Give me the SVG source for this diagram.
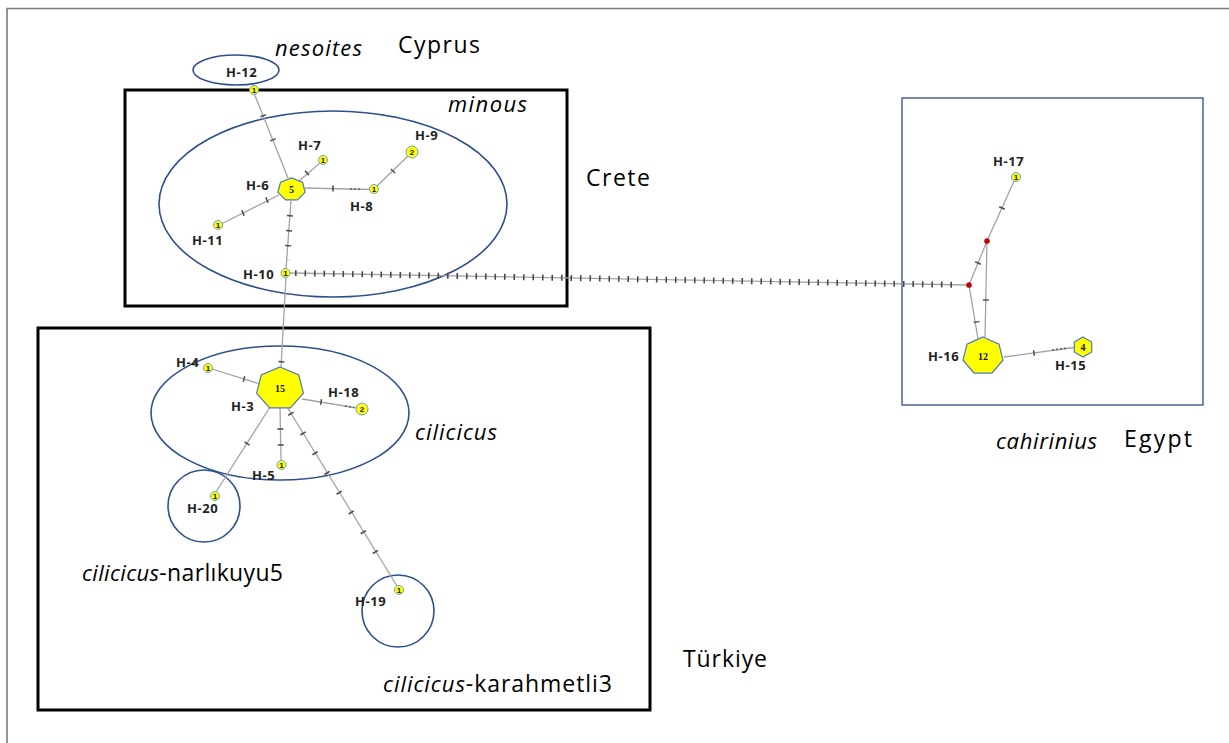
<svg xmlns="http://www.w3.org/2000/svg" width="1229" height="743" viewBox="0 0 1229 743">
<style>
.frame{stroke:#7a7a7a;stroke-width:1.6;fill:none}
.box{fill:none;stroke:#000;stroke-width:3}
.ebox{fill:none;stroke:#2e4a8c;stroke-width:1.3}
.ring{fill:none;stroke:#2e4f8e;stroke-width:1.6}
.ln{stroke:#a3a3a3;stroke-width:1.3;fill:none}
.tk{stroke:#4a4a4a;stroke-width:6;fill:none;stroke-linecap:butt}
.dl{stroke:#555;stroke-width:1.3;fill:none;stroke-dasharray:2 2}
.nd{fill:#ffff00;stroke:#6c9fd6;stroke-width:1}
.red{fill:#cc0000;stroke:#8a1a1a;stroke-width:0.5}
.big{fill:#ffff00;stroke:#4a78c0;stroke-width:1.2}
.one{font-family:"Liberation Sans",Arial,sans-serif;font-size:8px;font-weight:bold;fill:#111;text-anchor:middle}
.num{font-family:"Liberation Serif","Times New Roman",serif;font-size:10px;font-weight:bold;fill:#111;text-anchor:middle}
.lab{font-family:"Open Sans","Liberation Sans",sans-serif;font-size:13px;font-weight:bold;fill:#222;letter-spacing:0.6px}
.t{font-family:"Open Sans","Liberation Sans",sans-serif;font-size:23px;fill:#000}
.it{font-style:italic;font-size:22px}
</style>
<rect x="0" y="0" width="1229" height="743" fill="#fff"/>
<path class="frame" d="M7,743 L7,8.5 L1229,8.5"/>

<g id="regions">
<rect class="box" x="125" y="90" width="442" height="216"/>
<rect class="box" x="38" y="328" width="612" height="382"/>
<rect class="ebox" x="902" y="98" width="301" height="307"/>
<ellipse class="ring" cx="236" cy="70" rx="43" ry="15"/>
<ellipse class="ring" cx="333" cy="204" rx="174" ry="93"/>
<ellipse class="ring" cx="280" cy="413" rx="129" ry="67"/>
<circle class="ring" cx="204" cy="506" r="36"/>
<circle class="ring" cx="398" cy="611" r="36"/>
</g>

<g id="connectors">
<path class="ln" d="M254,93 L288,178"/>
<path class="tk" d="M263,115 L282.4,163" stroke-dasharray="1.5 24.4"/>
<path class="ln" d="M299,181 L320,163"/>
<path class="tk" d="M306.4,173.5 L307.6,172.5"/>
<path class="ln" d="M279,195 L221,224"/>
<path class="tk" d="M267.7,199.7 L266.3,200.3 M243.7,212.7 L242.3,213.3"/>
<path class="ln" d="M305,188 L370,189.5"/>
<path class="tk" d="M332.2,188.6 L333.8,188.6"/>
<path class="dl" d="M350,189 L362,189.2"/>
<path class="ln" d="M377,186 L408,156"/>
<path class="tk" d="M392.5,171.5 L393.5,170.5"/>
<path class="ln" d="M291,201 L286,269"/>
<path class="tk" d="M290,215 L287.3,260" stroke-dasharray="1.5 13.5"/>
<path class="ln" d="M286,277 L281,367"/>
<path class="tk" d="M281.4,361 L281.3,362.5"/>
<path class="ln" d="M290,273 L967,285"/>
<path class="tk" d="M295,273.1 L959,284.9" stroke-dasharray="1.6 7.9"/>
<path class="ln" d="M969,285 L987,241"/>
<path class="tk" d="M977.7,263.7 L978.3,262.3"/>
<path class="ln" d="M987,241 L1015,179"/>
<path class="tk" d="M1001.7,208.7 L1002.3,207.3"/>
<path class="ln" d="M969,285 L978,339"/>
<path class="tk" d="M976.4,321.3 L976.6,322.7"/>
<path class="ln" d="M987,241 L985,337"/>
<path class="tk" d="M985.8,299.3 L985.8,300.7"/>
<path class="ln" d="M1004,357 L1074,347.5"/>
<path class="tk" d="M1033.3,353.1 L1034.7,352.9"/>
<path class="dl" d="M1052,350 L1068,348"/>
<path class="ln" d="M260,384 L212,369"/>
<path class="tk" d="M244.7,379.2 L243.3,378.8"/>
<path class="ln" d="M302,399 L357,408"/>
<path class="tk" d="M320.3,401.9 L321.7,402.1"/>
<path class="dl" d="M345,406 L354,407.5"/>
<path class="ln" d="M280,407 L281,460"/>
<path class="tk" d="M280.4,428.3 L280.4,429.8 M280.7,444.3 L280.7,445.8"/>
<path class="ln" d="M270,407 L216,492"/>
<path class="tk" d="M247.4,442.9 L246.6,444.1"/>
<path class="ln" d="M287,407 L397,586"/>
<path class="tk" d="M290.5,413 L387,571" stroke-dasharray="1.6 21.54"/>
</g>

<g id="H-12"><circle class="nd" cx="254" cy="90" r="4.5"/><text class="one" x="254" y="93">1</text><text class="lab" x="226" y="77">H-12</text></g>
<g id="H-6"><polygon class="big" points="291.5,177.9 302.45,182.27 305.15,192.08 297.57,199.95 285.43,199.95 277.85,192.08 280.55,182.27"/><text class="num" x="291.5" y="193">5</text><text class="lab" x="246" y="190">H-6</text></g>
<g id="H-7"><circle class="nd" cx="323" cy="160" r="4.5"/><text class="one" x="323" y="163">1</text><text class="lab" x="298" y="150">H-7</text></g>
<g id="H-9"><circle class="nd" cx="412" cy="152" r="6"/><text class="one" x="412" y="155">2</text><text class="lab" x="415" y="140">H-9</text></g>
<g id="H-8"><circle class="nd" cx="374" cy="189" r="4.5"/><text class="one" x="374" y="192">1</text><text class="lab" x="350" y="211">H-8</text></g>
<g id="H-11"><circle class="nd" cx="218" cy="225" r="4.5"/><text class="one" x="218" y="228">1</text><text class="lab" x="192" y="245">H-11</text></g>
<g id="H-10"><circle class="nd" cx="285.5" cy="273" r="4.5"/><text class="one" x="285.5" y="276">1</text><text class="lab" x="243" y="279">H-10</text></g>
<g id="H-3"><polygon class="big" points="280,367 298.8,375 303.4,393.3 290.4,407.8 269.6,407.8 256.6,393.3 261.2,375"/><text class="num" x="280" y="392">15</text><text class="lab" x="231" y="411">H-3</text></g>
<g id="H-4"><circle class="nd" cx="208" cy="368" r="4.5"/><text class="one" x="208" y="371">1</text><text class="lab" x="176" y="367">H-4</text></g>
<g id="H-18"><circle class="nd" cx="362" cy="409" r="6"/><text class="one" x="362" y="412">2</text><text class="lab" x="328" y="397">H-18</text></g>
<g id="H-5"><circle class="nd" cx="281.5" cy="465" r="4.5"/><text class="one" x="281.5" y="468">1</text><text class="lab" x="252" y="480">H-5</text></g>
<g id="H-20"><circle class="nd" cx="215" cy="496" r="4.5"/><text class="one" x="215" y="499">1</text><text class="lab" x="187" y="513">H-20</text></g>
<g id="H-19"><circle class="nd" cx="399" cy="590" r="4.5"/><text class="one" x="399" y="593">1</text><text class="lab" x="355" y="606">H-19</text></g>
<g id="H-17"><circle class="nd" cx="1016" cy="177" r="4.5"/><text class="one" x="1016" y="180">1</text><text class="lab" x="993" y="166">H-17</text></g>
<g id="mv1"><circle class="red" cx="969" cy="285" r="2.6"/></g>
<g id="mv2"><circle class="red" cx="987" cy="241" r="2.6"/></g>
<g id="H-16"><polygon class="big" points="983,337 999.03,344.15 1002.99,360.23 991.89,373.12 974.11,373.12 963.01,360.23 966.97,344.15"/><text class="num" x="983" y="360">12</text><text class="lab" x="928" y="361">H-16</text></g>
<g id="H-15"><polygon class="big" points="1083,337 1091.7,342 1091.7,352 1083,357 1074.3,352 1074.3,342"/><text class="num" x="1083" y="351">4</text><text class="lab" x="1055" y="370">H-15</text></g>

<g id="labels">
<text class="t it" x="275" y="56" textLength="87">nesoites</text>
<text class="t" x="398" y="53" textLength="82">Cyprus</text>
<text class="t it" x="448" y="112" textLength="79">minous</text>
<text class="t" x="586" y="186" textLength="64">Crete</text>
<text class="t it" x="415" y="440" textLength="82">cilicicus</text>
<text class="t" x="82" y="581" textLength="201"><tspan class="it">cilicicus</tspan>-narlıkuyu5</text>
<text class="t" x="683" y="667" textLength="84">Türkiye</text>
<text class="t" x="383" y="692" textLength="229"><tspan class="it">cilicicus</tspan>-karahmetli3</text>
<text class="t it" x="996" y="449" textLength="101">cahirinius</text>
<text class="t" x="1124" y="447" textLength="68">Egypt</text>
</g>
</svg>
